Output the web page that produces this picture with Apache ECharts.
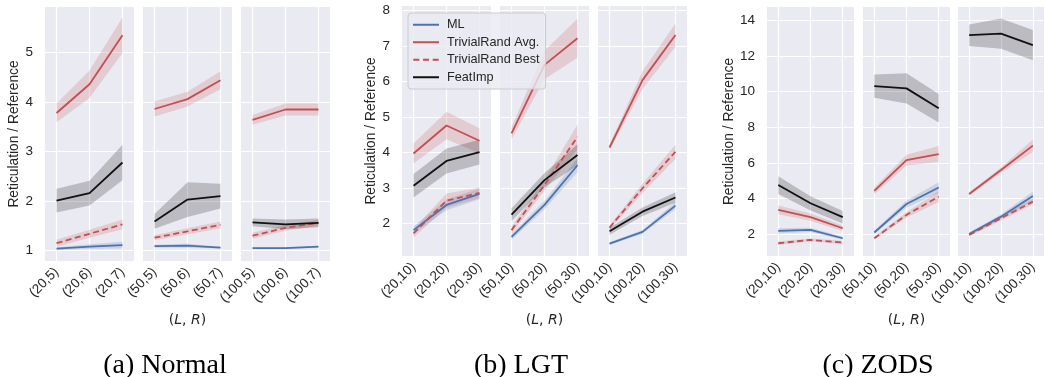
<!DOCTYPE html>
<html>
<head>
<meta charset="utf-8">
<script src="https://cdn.jsdelivr.net/npm/echarts@6/dist/echarts.min.js"></script>
<style>
  html, body { margin: 0; padding: 0; background: #ffffff; }
  #chart { width: 1045px; height: 377px; }
</style>
</head>
<body>
<div id="chart"></div>
<script>
// ---- categories (L, R) ----
const normalCats = ['(20,5)', '(20,6)', '(20,7)', '(50,5)', '(50,6)', '(50,7)', '(100,5)', '(100,6)', '(100,7)'];
const lgtCats = ['(20,10)', '(20,20)', '(20,30)', '(50,10)', '(50,20)', '(50,30)', '(100,10)', '(100,20)', '(100,30)'];
const zodsCats = ['(20,10)', '(20,20)', '(20,30)', '(50,10)', '(50,20)', '(50,30)', '(100,10)', '(100,20)', '(100,30)'];

// ---- y tick labels ----
const normalYTicks = [1, 2, 3, 4, 5];
const lgtYTicks = [2, 3, 4, 5, 6, 7, 8];
const zodsYTicks = [2, 4, 6, 8, 10, 12, 14];

// ---- Normal: mean and half-width of the confidence band ----
const normalML = [1.04, 1.08, 1.11, 1.09, 1.10, 1.06, 1.05, 1.05, 1.08];
const normalMLErr = [0.03, 0.05, 0.07, 0.03, 0.04, 0.02, 0.02, 0.02, 0.02];
const normalAvg = [3.78, 4.36, 5.35, 3.86, 4.06, 4.44, 3.64, 3.85, 3.85];
const normalAvgErr = [0.19, 0.28, 0.36, 0.15, 0.15, 0.18, 0.10, 0.12, 0.12];
const normalBest = [1.15, 1.34, 1.53, 1.26, 1.39, 1.52, 1.30, 1.46, 1.56];
const normalBestErr = [0.07, 0.08, 0.10, 0.05, 0.06, 0.07, 0.06, 0.06, 0.06];
const normalFeat = [2.01, 2.16, 2.78, 1.59, 2.03, 2.10, 1.57, 1.53, 1.56];
const normalFeatErr = [0.24, 0.25, 0.36, 0.15, 0.35, 0.25, 0.08, 0.10, 0.09];

// ---- LGT ----
const lgtML = [1.81, 2.52, 2.83, 1.62, 2.52, 3.64, 1.43, 1.76, 2.50];
const lgtMLErr = [0.10, 0.15, 0.15, 0.08, 0.12, 0.20, 0.04, 0.05, 0.10];
const lgtAvg = [3.97, 4.76, 4.33, 4.54, 6.47, 7.22, 4.14, 6.04, 7.31];
const lgtAvgErr = [0.28, 0.39, 0.35, 0.17, 0.40, 0.55, 0.08, 0.25, 0.33];
const lgtBest = [1.72, 2.64, 2.86, 1.81, 3.08, 4.44, 1.88, 2.99, 4.02];
const lgtBestErr = [0.12, 0.20, 0.15, 0.10, 0.15, 0.35, 0.06, 0.13, 0.20];
const lgtFeat = [3.06, 3.76, 4.01, 2.25, 3.22, 3.93, 1.78, 2.33, 2.73];
const lgtFeatErr = [0.33, 0.35, 0.35, 0.18, 0.20, 0.30, 0.10, 0.12, 0.15];

// ---- ZODS ----
const zodsML = [2.19, 2.25, 1.78, 2.10, 3.70, 4.62, 2.02, 2.99, 4.15];
const zodsMLErr = [0.15, 0.12, 0.08, 0.10, 0.20, 0.30, 0.10, 0.12, 0.25];
const zodsAvg = [3.37, 2.96, 2.34, 4.43, 6.16, 6.50, 4.26, 5.60, 6.97];
const zodsAvgErr = [0.25, 0.20, 0.15, 0.18, 0.30, 0.45, 0.10, 0.15, 0.35];
const zodsBest = [1.50, 1.69, 1.54, 1.78, 3.09, 4.11, 1.97, 2.90, 3.83];
const zodsBestErr = [0.10, 0.08, 0.10, 0.08, 0.15, 0.30, 0.08, 0.12, 0.15];
const zodsFeat = [4.76, 3.74, 2.96, 10.31, 10.18, 9.06, 13.16, 13.25, 12.60];
const zodsFeatErr = [0.50, 0.40, 0.35, 0.65, 0.85, 0.80, 0.60, 0.85, 0.85];

const methodNames = ['ML', 'TrivialRand Avg.', 'TrivialRand Best', 'FeatImp'];
const captions = ['(a) Normal', '(b) LGT', '(c) ZODS'];

// ---- styling ----
const TEXT = '#262626';
const SANS = '"Liberation Sans", Arial, sans-serif';
const methodStyle = {
  'ML': { color: '#4C72B0', type: 'solid' },
  'TrivialRand Avg.': { color: '#C44E52', type: 'solid' },
  'TrivialRand Best': { color: '#C44E52', type: [6, 3.5] },
  'FeatImp': { color: '#111111', type: 'solid' }
};
const bandColor = {
  'ML': 'rgba(76,114,176,0.2)',
  'TrivialRand Avg.': 'rgba(196,78,82,0.2)',
  'TrivialRand Best': 'rgba(196,78,82,0.2)',
  'FeatImp': 'rgba(0,0,0,0.2)'
};
// legend keys: a plain stroke, or three dashes for the dashed series
const solidKey = 'path://M0,0H26V2H0Z';
const dashedKey = 'path://M0,0H6V2H0Z M9.7,0H15.7V2H9.7Z M19.4,0H25.4V2H19.4Z';

const groups = [
  { cats: normalCats, ticks: normalYTicks, yMin: 0.79, yMax: 5.92,
    means: [normalML, normalAvg, normalBest, normalFeat],
    errs: [normalMLErr, normalAvgErr, normalBestErr, normalFeatErr],
    lefts: [45, 143, 241], widths: [89, 89, 89], top: 7, bottom: 261, nameGap: 23, caption: 165 },
  { cats: lgtCats, ticks: lgtYTicks, yMin: 1.08, yMax: 8.13,
    means: [lgtML, lgtAvg, lgtBest, lgtFeat],
    errs: [lgtMLErr, lgtAvgErr, lgtBestErr, lgtFeatErr],
    lefts: [402, 500, 598], widths: [89, 89, 89], top: 6, bottom: 256, nameGap: 22, caption: 521 },
  { cats: zodsCats, ticks: zodsYTicks, yMin: 0.785, yMax: 14.74,
    means: [zodsML, zodsAvg, zodsBest, zodsFeat],
    errs: [zodsMLErr, zodsAvgErr, zodsBestErr, zodsFeatErr],
    lefts: [767, 863, 958], widths: [87, 87, 86], top: 7, bottom: 256, nameGap: 30, caption: 878 }
];

// confidence band: one polygon through the lower edge and back along the upper edge
function renderBand(params, api) {
  const lower = [0, 1, 2].map(i => api.coord([i, api.value(i)]));
  const upper = [2, 1, 0].map(i => api.coord([i, api.value(3 + i)]));
  return {
    type: 'polygon',
    shape: { points: lower.concat(upper) },
    style: { fill: api.visual('color') }
  };
}

const grid = [], xAxis = [], yAxis = [], series = [], graphic = [];

groups.forEach((g, gi) => {
  for (let p = 0; p < 3; p++) {
    const k = grid.length;
    grid.push({ left: g.lefts[p], top: g.top, width: g.widths[p], height: g.bottom - g.top,
                show: true, backgroundColor: '#EAEAF2', borderWidth: 0 });
    const catSlice = g.cats.slice(p * 3, p * 3 + 3);
    xAxis.push({
      type: 'value', gridIndex: k, min: -0.35, max: 2.35,
      axisLine: { show: false },
      axisTick: { show: false, customValues: [0, 1, 2] },
      splitLine: { show: true, lineStyle: { color: '#ffffff', width: 1.2 } },
      axisLabel: { show: true, customValues: [0, 1, 2], rotate: 45, margin: 9,
                   fontSize: 13.5, color: TEXT, fontFamily: SANS,
                   formatter: v => catSlice[Math.round(v)] },
      name: p === 1 ? '({i|L}, {i|R})' : '',
      nameLocation: 'middle', nameGap: 320 - 7 - g.bottom,
      nameTextStyle: { fontSize: 14, color: TEXT, fontFamily: '"DejaVu Sans", sans-serif',
                       rich: { i: { fontStyle: 'italic', fontSize: 14, color: TEXT, fontFamily: '"DejaVu Sans", sans-serif' } } }
    });
    yAxis.push({
      type: 'value', gridIndex: k, min: g.yMin, max: g.yMax,
      axisLine: { show: false },
      axisTick: { show: false, customValues: g.ticks },
      splitLine: { show: true, lineStyle: { color: '#ffffff', width: 1.2 } },
      axisLabel: { show: p === 0, customValues: g.ticks, margin: 12,
                   fontSize: 13.5, color: TEXT, fontFamily: SANS },
      name: p === 0 ? 'Reticulation / Reference' : '',
      nameLocation: 'middle', nameGap: g.nameGap,
      nameTextStyle: { fontSize: 13.8, color: TEXT, fontFamily: SANS }
    });

    methodNames.forEach((m, mi) => {
      const mean = g.means[mi].slice(p * 3, p * 3 + 3);
      const err = g.errs[mi].slice(p * 3, p * 3 + 3);
      const lo = mean.map((v, i) => v - err[i]);
      const hi = mean.map((v, i) => v + err[i]);
      series.push({
        type: 'custom', name: m + ' band', xAxisIndex: k, yAxisIndex: k,
        silent: true, z: 1, clip: true,
        itemStyle: { color: bandColor[m] },
        renderItem: renderBand,
        data: [lo.concat(hi)]
      });
    });
    methodNames.forEach((m, mi) => {
      const mean = g.means[mi].slice(p * 3, p * 3 + 3);
      series.push({
        type: 'line', name: m, xAxisIndex: k, yAxisIndex: k,
        symbol: 'none', silent: true, z: 3,
        itemStyle: { color: methodStyle[m].color },
        lineStyle: { color: methodStyle[m].color, width: 1.8, type: methodStyle[m].type },
        data: mean.map((v, i) => [i, v])
      });
    });
  }
  graphic.push({
    type: 'text', x: g.caption, y: 366,
    style: { text: captions[gi], fill: '#000000', font: '28px "Liberation Serif", "Times New Roman", serif',
             textAlign: 'center', textVerticalAlign: 'middle' }
  });
});

const chart = echarts.init(document.getElementById('chart'), null, { renderer: 'canvas' });
chart.setOption({
  animation: false,
  backgroundColor: '#ffffff',
  grid, xAxis, yAxis, series, graphic,
  legend: {
    data: methodNames.map(m => ({
      name: m,
      icon: m === 'TrivialRand Best' ? dashedKey : solidKey,
      itemStyle: { color: methodStyle[m].color }
    })),
    orient: 'vertical', left: 408, top: 13,
    itemWidth: 26, itemHeight: 2, itemGap: 4, padding: [5, 6, 5, 5],
    selectedMode: false,
    backgroundColor: 'rgba(234,234,242,0.8)', borderColor: '#cccccc', borderWidth: 1, borderRadius: 3,
    textStyle: { fontSize: 12.7, lineHeight: 13.5, color: TEXT, fontFamily: SANS, padding: [0, 0, 0, 3] }
  }
});
</script>
</body>
</html>
